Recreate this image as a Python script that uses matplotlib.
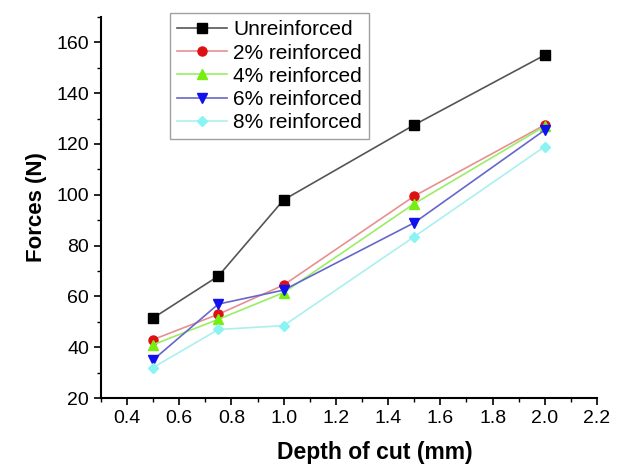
import numpy as np
import matplotlib.pyplot as plt
from matplotlib.ticker import MultipleLocator

plt.rcParams['font.family'] = ['Liberation Sans', 'DejaVu Sans']

depth = [0.5, 0.75, 1.0, 1.5, 2.0]
unreinforced = [51.5, 68, 98, 127.5, 155]
reinf_2 = [43, 53, 64.5, 99.5, 127.5]
reinf_4 = [41, 51, 61.5, 96.5, 127]
reinf_6 = [35, 57, 62.5, 89, 125.5]
reinf_8 = [32, 47, 48.5, 83.5, 119]

series = [
    ("Unreinforced", unreinforced, "#555555", "s", "black"),
    ("2% reinforced", reinf_2, "#e89090", "o", "#dd1111"),
    ("4% reinforced", reinf_4, "#99ee66", "^", "#77ee11"),
    ("6% reinforced", reinf_6, "#6666cc", "v", "#1111ee"),
    ("8% reinforced", reinf_8, "#aaf0f0", "D", "#88f4f4"),
]

fig = plt.figure(figsize=(6.42, 4.70), dpi=100)
ax = fig.add_axes([0.157, 0.153, 0.773, 0.811])

for label, vals, lc, mk, mc in series:
    ms = 6.5 if mk != "D" else 5.5
    ax.plot(depth, vals, color=lc, lw=1.2, marker=mk, markersize=ms,
            markerfacecolor=mc, markeredgecolor=mc, label=label)

ax.set_xlim(0.3, 2.2)
ax.set_ylim(20, 170)
ax.xaxis.set_minor_locator(MultipleLocator(0.1))
ax.yaxis.set_minor_locator(MultipleLocator(10))
xt = np.arange(0.4, 2.21, 0.2)
ax.set_xticks(xt)
ax.set_xticklabels([f"{v:.1f}" for v in xt])
ax.set_yticks(np.arange(20, 161, 20))

for side in ("top", "right"):
    ax.spines[side].set_visible(False)
for side in ("left", "bottom"):
    ax.spines[side].set_linewidth(1.5)
ax.tick_params(which="major", direction="out", length=5, width=1.2, labelsize=14)
ax.tick_params(which="minor", direction="out", length=3, width=1.0)

ax.set_xlabel("Depth of cut (mm)", fontsize=16.5, fontweight="bold")
ax.xaxis.set_label_coords(0.552, -0.112)
ax.set_ylabel("Forces (N)", fontsize=16, fontweight="bold", labelpad=7)

leg = ax.legend(loc="upper left", bbox_to_anchor=(0.139, 1.01), borderaxespad=0,
                fontsize=15, frameon=True, fancybox=False, edgecolor="#888888",
                handlelength=2.4, handletextpad=0.3, labelspacing=0.2,
                borderpad=0.35)
leg.get_frame().set_linewidth(1.0)

fig.savefig("out.png", dpi=100)
